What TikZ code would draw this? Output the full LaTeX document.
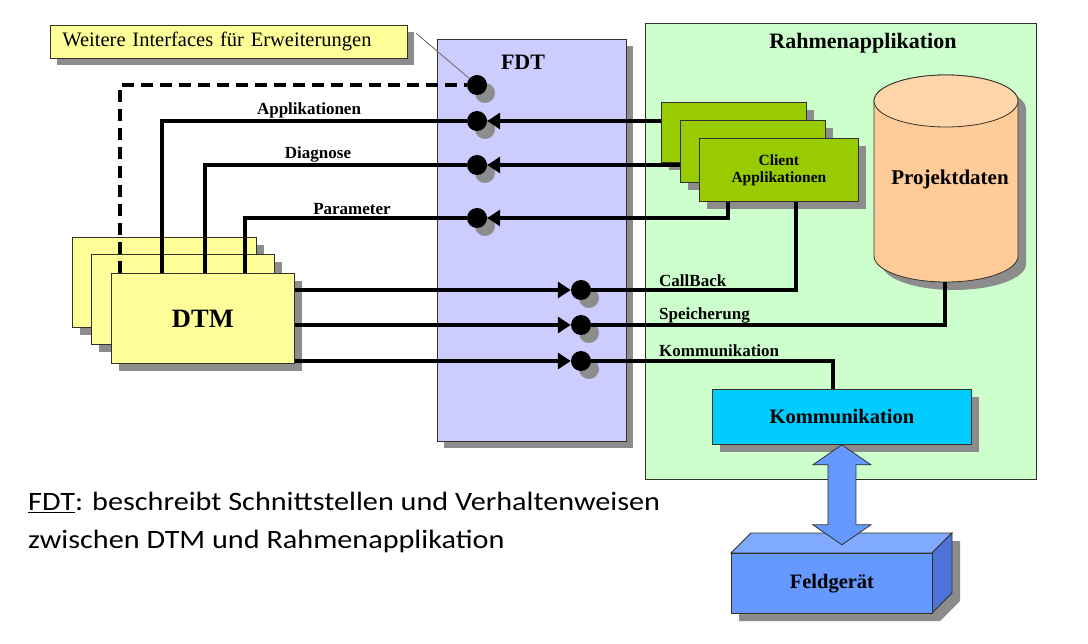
\documentclass[tikz,border=0pt]{standalone}
\usepackage{fontspec}
\setmainfont{Liberation Serif}
\newfontfamily\calibri[FakeStretch=1.14]{Carlito}
\usetikzlibrary{arrows.meta,shadows,calc}
\definecolor{shadowgray}{RGB}{140,140,140}
\definecolor{noteyellow}{RGB}{255,255,153}
\definecolor{fdtblue}{RGB}{204,204,255}
\definecolor{rahmengreen}{RGB}{204,255,204}
\definecolor{clientgreen}{RGB}{153,204,0}
\definecolor{cylbody}{RGB}{255,204,153}
\definecolor{cyltop}{RGB}{255,214,170}
\definecolor{kommcyan}{RGB}{0,204,255}
\definecolor{feldfront}{RGB}{102,153,255}
\definecolor{feldtop}{RGB}{128,170,255}
\definecolor{feldside}{RGB}{77,115,217}
\definecolor{edge}{RGB}{50,50,40}
\begin{document}
\begin{tikzpicture}[x=1pt,y=-1pt,
  box/.style={draw=edge, line width=0.8pt, rectangle, inner sep=0pt, anchor=north west},
  shad/.style={drop shadow={shadow xshift=8pt, shadow yshift=-8pt, fill=shadowgray, opacity=1}},
  shadsmall/.style={drop shadow={shadow xshift=7pt, shadow yshift=-7pt, fill=shadowgray, opacity=1}},
  dot/.style={circle, fill=black, inner sep=0pt, minimum size=20pt,
    drop shadow={shadow xshift=8pt, shadow yshift=-8pt, fill=shadowgray, opacity=1}},
  conn/.style={line width=3.5pt, draw=black},
  tipped/.style={-{Triangle[length=13pt,width=16pt]}},
  lbl/.style={font=\bfseries\fontsize{17}{20}\selectfont, inner sep=0pt},
  title/.style={font=\bfseries\fontsize{22}{25}\selectfont, inner sep=0pt}
]
\useasboundingbox (0,0) rectangle (1088,644);
\fill[white] (0,0) rectangle (1088,644);

% note box
\node[box, shadsmall, fill=noteyellow, minimum width=357pt, minimum height=33pt,
  text width=333pt, inner xsep=12pt, align=left, font=\fontsize{20.5}{23}\selectfont] (note) at (50,25)
  {Weitere Interfaces für Erweiterungen};

% FDT
\node[box, shadsmall, fill=fdtblue, minimum width=189pt, minimum height=402pt] (fdt) at (437,39) {};
\node[title] (fdtlbl) at (523,62) {FDT};

% Rahmenapplikation
\node[box, fill=rahmengreen, minimum width=391pt, minimum height=456pt] (rahmen) at (645,23) {};
\node[title] (rahmenlbl) at (863,43) {Rahmenapplikation};

% client apps
\node[box, shad, fill=clientgreen, minimum width=145pt, minimum height=60pt] (ca1) at (661,102) {};
\node[box, shad, fill=clientgreen, minimum width=145pt, minimum height=62pt] (ca2) at (680,120) {};
\node[box, shad, fill=clientgreen, minimum width=159pt, minimum height=63pt, align=center,
  font=\bfseries\fontsize{15.5}{17}\selectfont] (ca3) at (699,138) {Client\\Applikationen};

% cylinder
\fill[shadowgray, shift={(8,8)}] (874,101) -- (874,256) .. controls (874,270.4) and (906.2,282) .. (946,282)
  .. controls (985.8,282) and (1018,270.4) .. (1018,256) -- (1018,101)
  .. controls (1018,86.6) and (985.8,75) .. (946,75) .. controls (906.2,75) and (874,86.6) .. (874,101) -- cycle;
\draw[fill=cylbody, draw=edge, line width=0.8pt] (874,101) -- (874,256) .. controls (874,270.4) and (906.2,282) .. (946,282)
  .. controls (985.8,282) and (1018,270.4) .. (1018,256) -- (1018,101)
  .. controls (1018,86.6) and (985.8,75) .. (946,75) .. controls (906.2,75) and (874,86.6) .. (874,101) -- cycle;
\draw[fill=cyltop, draw=edge, line width=0.8pt] (874,101) .. controls (874,115.4) and (906.2,127) .. (946,127)
  .. controls (985.8,127) and (1018,115.4) .. (1018,101)
  .. controls (1018,86.6) and (985.8,75) .. (946,75) .. controls (906.2,75) and (874,86.6) .. (874,101) -- cycle;
\node[font=\bfseries\fontsize{21}{24}\selectfont, inner sep=0pt] (pd) at (950,179) {Projektdaten};
\coordinate (cylb) at (945,282);

% Kommunikation box
\node[box, shad, fill=kommcyan, minimum width=259pt, minimum height=55pt,
  font=\bfseries\fontsize{20.5}{23}\selectfont] (komm) at (712,389) {Kommunikation};

% Feldgeraet
\fill[shadowgray] (739,561) -- (759,541) -- (960,541) -- (960,601) -- (940,621) -- (739,621) -- cycle;
\draw[fill=feldtop, draw=edge, line width=0.8pt] (731,553) -- (751,533) -- (952,533) -- (932,553) -- cycle;
\draw[fill=feldside, draw=edge, line width=0.8pt] (932,553) -- (952,533) -- (952,593) -- (932,613) -- cycle;
\node[box, fill=feldfront, minimum width=201pt, minimum height=60pt,
  font=\bfseries\fontsize{20.5}{23}\selectfont] (fg) at (731,553) {Feldgerät};

% block arrow
\draw[fill=feldfront, draw=edge, line width=0.8pt] (komm.south) -- ++(29,20) -- ++(-15,0) -- ++(0,60) -- ++(15,0)
  -- ++(-29,20) -- ++(-29,-20) -- ++(15,0) -- ++(0,-60) -- ++(-15,0) -- cycle;

% DTM stack
\node[box, shad, fill=noteyellow, minimum width=184pt, minimum height=90pt] (dtm1) at (72,237) {};
\node[box, shad, fill=noteyellow, minimum width=183pt, minimum height=90pt] (dtm2) at (91,254) {};
\node[box, shad, fill=noteyellow, minimum width=183pt, minimum height=90pt,
  font=\bfseries\fontsize{26.5}{30}\selectfont] (dtm3) at (111,273) {DTM};

% dots
\node[dot] (d0) at (477,85) {};
\node[dot] (d1) at (477,121) {};
\node[dot] (d2) at (477,165) {};
\node[dot] (d3) at (477,218) {};
\node[dot] (d4) at (581,290) {};
\node[dot] (d5) at (581,325) {};
\node[dot] (d6) at (581,361) {};

% callout line
\draw[shadowgray!80!black, line width=0.9pt] ($(note.north east)+(8,8)$) -- (d0);

% connectors DTM -> FDT (upper)
\draw[conn, dash pattern=on 12pt off 7pt] ($(dtm3.north west)+(9,0)$) |- (d0);
\draw[conn] ($(dtm3.north west)+(51,0)$) |- (d1);
\draw[conn] ($(dtm3.north west)+(94,0)$) |- (d2);
\draw[conn] ($(dtm3.north west)+(134,0)$) |- (d3);

% client apps -> dots
\draw[conn, tipped] (ca1.west |- d1) -- (d1);
\draw[conn, tipped] (ca2.west |- d2) -- (d2);
\draw[conn, tipped] ($(ca3.south west)+(29,0)$) |- (d3);

% DTM -> lower dots
\draw[conn, tipped] (dtm3.east |- d4) -- (d4);
\draw[conn, tipped] (dtm3.east |- d5) -- (d5);
\draw[conn, tipped] (dtm3.east |- d6) -- (d6);

% lower dots -> Rahmenapplikation
\draw[conn] (d4) -| ($(ca3.south west)+(97,0)$);
\draw[conn] (d5) -| (cylb);
\draw[conn] (d6) -| ($(komm.north west)+(121,0)$);

% labels
\node[lbl] (lapp) at (309,110) {Applikationen};
\node[lbl] (ldia) at (318,154) {Diagnose};
\node[lbl] (lpar) at (352,209) {Parameter};
\node[lbl, anchor=west] (lcb) at (659,281) {CallBack};
\node[lbl, anchor=west] (lsp) at (659,315) {Speicherung};
\node[lbl, anchor=west] (lko) at (659,351) {Kommunikation};

% description
\node[anchor=base west, inner sep=0pt, font=\calibri\fontsize{26.5}{37}\selectfont] (desc1) at (28,511)
  {\underline{FDT}: beschreibt Schnittstellen und Verhaltenweisen};
\node[anchor=base west, inner sep=0pt, font=\calibri\fontsize{26.5}{37}\selectfont] (desc2) at (28,548)
  {zwischen DTM und Rahmenapplikation};
\end{tikzpicture}
\end{document}
